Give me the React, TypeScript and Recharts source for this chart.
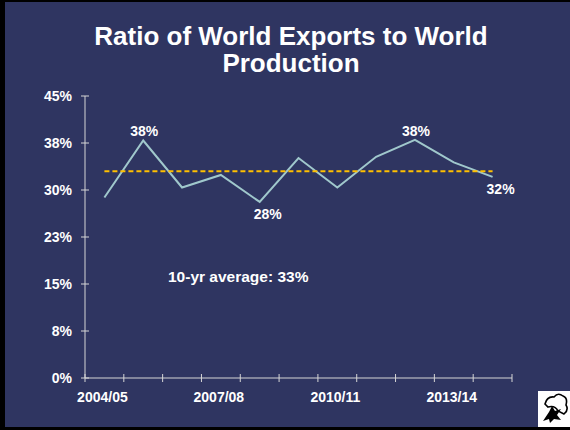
import { LineChart, Line, XAxis, YAxis, LabelList } from "recharts";

const seasons = [
  "2004/05", "2005/06", "2006/07", "2007/08", "2008/09", "2009/10",
  "2010/11", "2011/12", "2012/13", "2013/14", "2014/15",
];
const exportRatio = [28.8, 37.9, 30.4, 32.4, 28.1, 35.1, 30.4, 35.3, 38.0, 34.4, 32.1];
const tenYearAverage = 33;
const yTicks = [0, 7.5, 15, 22.5, 30, 37.5, 45];
// which points carry a value label, and on which side
const labelSide = [null, "above", null, null, "below", null, null, null, "above", null, "below"];

const data = seasons.map((season, i) => ({
  season,
  ratio: exportRatio[i],
  average: tenYearAverage,
}));

const NAVY = "#2F3561";
const AXIS = "#D6D6D6";
const FONT = "'Liberation Sans', Arial, sans-serif";
const HALF_BAND = 427 / seasons.length / 2;

function SeasonTick(props: any) {
  const { x, y, payload, index } = props;
  const last = index === seasons.length - 1;
  return (
    <g>
      <line x1={x - HALF_BAND} x2={x - HALF_BAND} y1={y - 4} y2={y + 4} stroke={AXIS} />
      {last && <line x1={x + HALF_BAND} x2={x + HALF_BAND} y1={y - 4} y2={y + 4} stroke={AXIS} />}
      {index % 3 === 0 && (
        <text x={x - 2} y={y + 24} textAnchor="middle" fill="#fff" fontSize={14} fontWeight="bold" fontFamily={FONT}>
          {payload.value}
        </text>
      )}
    </g>
  );
}

function PercentTick(props: any) {
  const { x, y, payload } = props;
  return (
    <g>
      <line x1={x - 4} x2={x + 4} y1={y} y2={y} stroke={AXIS} />
      <text x={x - 13} y={y + 5} textAnchor="end" fill="#fff" fontSize={14} fontWeight="bold" fontFamily={FONT}>
        {Math.round(payload.value)}%
      </text>
    </g>
  );
}

function PointLabel(props: any) {
  const { x, y, value, index } = props;
  const side = labelSide[index];
  if (!side) return null;
  const above = side === "above";
  return (
    <text
      x={above ? x + 1 : x + 8}
      y={above ? y - 4 : y + 17}
      textAnchor="middle"
      fill="#fff"
      fontSize={14}
      fontWeight="bold"
      fontFamily={FONT}
    >
      {Math.round(value)}%
    </text>
  );
}

export default function App() {
  return (
    <div style={{ position: "absolute", left: 0, top: 0, width: 570, height: 430, background: "#000" }}>
      <div style={{ position: "absolute", left: 5, top: 2, width: 565, height: 425, background: NAVY }} />
      <div style={{ position: "absolute", left: 0, top: 0 }}>
        <LineChart width={570} height={430} data={data} margin={{ top: 96, right: 58, bottom: 22, left: 0 }}>
          <XAxis
            dataKey="season"
            interval={0}
            padding={{ left: HALF_BAND, right: HALF_BAND }}
            height={30}
            stroke={AXIS}
            tickLine={false}
            tickSize={0}
            tickMargin={0}
            tick={<SeasonTick />}
          />
          <YAxis
            domain={[0, 45]}
            ticks={yTicks}
            width={85}
            stroke={AXIS}
            tickLine={false}
            tickSize={0}
            tickMargin={0}
            tick={<PercentTick />}
          />
          <Line dataKey="ratio" stroke="#A0C8CC" strokeWidth={2} dot={false} isAnimationActive={false}>
            <LabelList dataKey="ratio" content={<PointLabel />} />
          </Line>
          <Line
            dataKey="average"
            stroke="#FFC000"
            strokeWidth={2}
            strokeDasharray="5 3"
            dot={false}
            isAnimationActive={false}
          />
        </LineChart>
      </div>
      <svg width={570} height={430} style={{ position: "absolute", left: 0, top: 0, pointerEvents: "none" }}>
        <g fill="#fff" fontFamily={FONT} fontWeight="bold">
          <text x={291} y={45} fontSize={26} textAnchor="middle">Ratio of World Exports to World</text>
          <text x={291} y={72} fontSize={26} textAnchor="middle">Production</text>
          <text x={168} y={282} fontSize={15.5}>10-yr average: {tenYearAverage}%</text>
        </g>
        {/* cotton logo */}
        <rect x={538} y={391} width={32} height={36} fill="#fff" />
        <path
          d="M545 404 q2 -8 9 -7 q4 -5 9 -1 q5 2 3 9 q3 5 -2 9 l-6 -3 q-3 -6 -10 -4 z"
          fill="none"
          stroke="#000"
          strokeWidth={1.6}
        />
        <path d="M543 421 l6 -9 l3 -6 l3 5 l6 -2 l-4 6 l4 5 l-7 -1 l-4 4 l-1 -4 z" fill="#000" />
      </svg>
    </div>
  );
}
